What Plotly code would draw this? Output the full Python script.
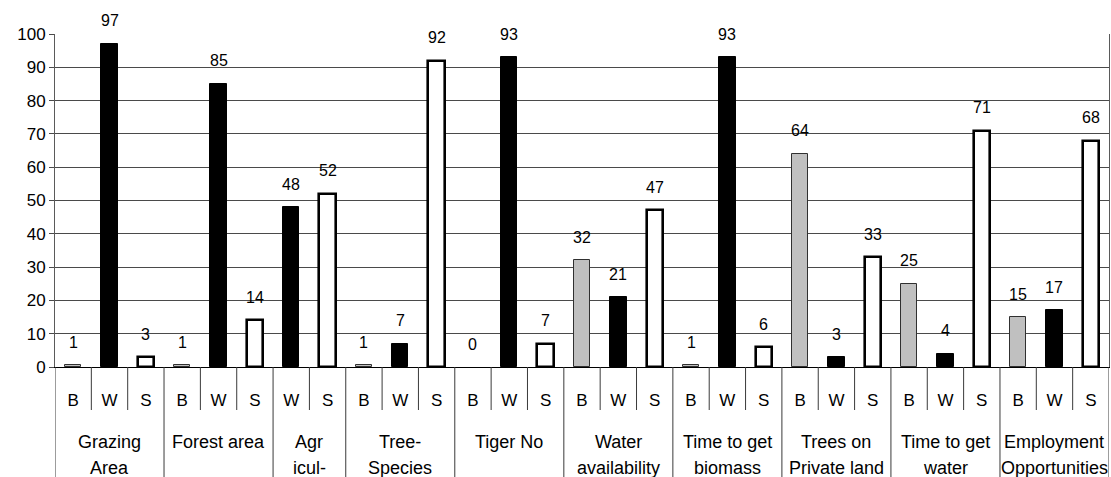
import math
import plotly.graph_objects as go

# ---------------- data ----------------
groups = ["Grazing<br>Area", "Forest area", "Agr<br>icul-", "Tree-<br>Species", "Tiger No",
          "Water<br>availability", "Time to get<br>biomass", "Trees on<br>Private land",
          "Time to get<br>water", "Employment<br>Opportunities"]
sub_names = ["B", "W", "S"]
b_values = [0.5, 0.5, None, 0.5, 0, 32, 0.5, 64, 25, 15]
w_values = [97, 85, 48, 7, 93, 21, 93, 3, 4, 17]
s_values = [3, 14, 52, 92, 7, 47, 6, 33, 71, 68]
y_ticks = [0, 10, 20, 30, 40, 50, 60, 70, 80, 90, 100]

# ---------------- styles ----------------
FONT = "Liberation Sans, Arial, sans-serif"
W, H = 1111, 477
ML, MR, MT, MB = 55, 2, 34, 110
PLOT_H = H - MT - MB
style = {
    "B": dict(fill="#c0c0c0", line="#303030", lw=1),
    "W": dict(fill="#000000", line="#000000", lw=1),
    "S": dict(fill="#ffffff", line="#000000", lw=2.6),
}

# flatten
xs, ys, subs, labels, fills, lcols, lws = [], [], [], [], [], [], []
group_spans = []
idx = 0
for g, bv, wv, sv in zip(groups, b_values, w_values, s_values):
    start = idx
    for name, v in zip(sub_names, (bv, wv, sv)):
        if v is None:
            continue
        xs.append(idx)
        ys.append(v)
        subs.append(name)
        labels.append(str(math.floor(v + 0.5)))
        fills.append(style[name]["fill"])
        lcols.append(style[name]["line"])
        lws.append(style[name]["lw"] if v > 0 else 0)
        idx += 1
    group_spans.append((g, start, idx - 1))
n = idx

fig = go.Figure()
fig.add_trace(go.Bar(
    x=xs, y=ys, width=0.45,
    marker=dict(color=fills, line=dict(color=lcols, width=lws)),
    hoverinfo="skip", showlegend=False,
))

annotations = []
for x, y, t in zip(xs, ys, labels):
    annotations.append(dict(x=x, y=y, xref="x", yref="y", text=t, showarrow=False,
                            yanchor="middle", yshift=23,
                            font=dict(family=FONT, size=16, color="#000")))

shapes = []
group_bounds = set()
for g, s0, s1 in group_spans:
    group_bounds.add(s0)
    group_bounds.add(s1 + 1)
    lines = g.split("<br>")
    for k, line in enumerate(lines):
        annotations.append(dict(x=(s0 + s1) / 2, y=0, xref="x", yref="paper", text=line,
                                showarrow=False, yanchor="middle", yshift=-(75 + 26 * k),
                                font=dict(family=FONT, size=18, color="#000")))

for b in range(n + 1):
    long = b in group_bounds
    depth = MB if long else 43
    shapes.append(dict(type="line", xref="x", yref="paper", x0=b - 0.5, x1=b - 0.5,
                       y0=0, y1=-depth / PLOT_H, line=dict(color="#3a3a3a", width=1)))

fig.update_layout(
    width=W, height=H,
    margin=dict(l=ML, r=MR, t=MT, b=MB),
    paper_bgcolor="white", plot_bgcolor="white",
    font=dict(family=FONT, size=16, color="#000"),
    bargap=0,
    annotations=annotations,
    shapes=shapes,
    xaxis=dict(range=[-0.5, n - 0.5], tickmode="array", tickvals=xs, ticktext=subs,
               ticks="", showgrid=False, zeroline=False, showline=True,
               linecolor="#000", linewidth=1, ticklabelstandoff=18,
               tickfont=dict(family=FONT, size=17, color="#000")),
    yaxis=dict(range=[0, 100], tickmode="array", tickvals=y_ticks, ticks="outside",
               ticklen=5, tickcolor="#4a4a4a", showgrid=True, gridcolor="#4a4a4a",
               gridwidth=1, zeroline=False, showline=True, linecolor="#5a5a5a",
               linewidth=1, mirror=True,
               tickfont=dict(family=FONT, size=17, color="#000")),
)

fig.write_html("out.html", config={"displayModeBar": False},
               post_script="document.body.style.margin='0';")
